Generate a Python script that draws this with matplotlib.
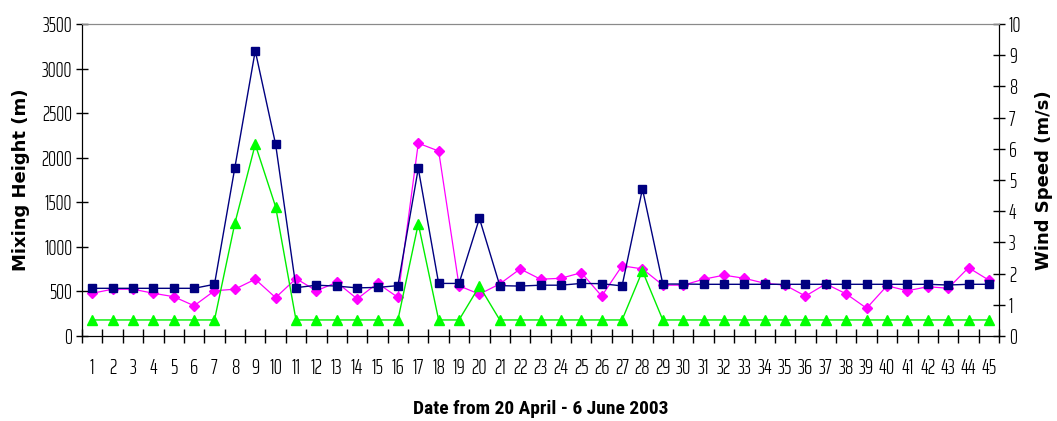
import numpy as np
from matplotlib import pyplot as plt
from matplotlib.ticker import FixedLocator, NullFormatter

# day index, 20 April - 6 June 2003
days = np.arange(1, 46)

# mixing height (m), dark blue squares
mix_height = [535, 535, 535, 535, 535, 535, 580, 1890, 3200, 2150,
              542, 570, 560, 540, 545, 565, 1880, 590, 590, 1320,
              565, 560, 570, 570, 590, 587, 562, 1650, 583, 583,
              580, 580, 580, 580, 580, 580, 580, 580, 580, 580,
              580, 580, 572, 580, 580]

# second mixing height series (m), green triangles
mix_height2 = [180, 180, 180, 180, 180, 180, 180, 1265, 2150, 1450,
               180, 180, 180, 180, 180, 180, 1260, 180, 180, 560,
               180, 180, 180, 180, 180, 180, 180, 730, 180, 180,
               180, 180, 180, 180, 180, 180, 180, 180, 180, 180,
               180, 180, 180, 180, 180]

# wind speed (m/s), magenta diamonds
wind = [1.37, 1.50, 1.50, 1.37, 1.26, 0.97, 1.45, 1.50, 1.82, 1.23,
        1.84, 1.45, 1.72, 1.19, 1.69, 1.24, 6.18, 5.93, 1.61, 1.34,
        1.67, 2.15, 1.82, 1.85, 2.03, 1.28, 2.25, 2.15, 1.63, 1.63,
        1.82, 1.95, 1.85, 1.69, 1.63, 1.28, 1.67, 1.35, 0.89, 1.61,
        1.45, 1.58, 1.53, 2.19, 1.79]

ticks_font = ["Saira ExtraCondensed", "Archivo Narrow", "DejaVu Sans"]
xlabel_font = ["Roboto Condensed", "PT Sans Narrow", "DejaVu Sans"]
ylabel_font = ["DejaVu Sans"]

fig = plt.figure(figsize=(10.57, 4.21), dpi=100)
ax = fig.add_axes([0.0776, 0.2019, 0.8676, 0.741])
ax2 = ax.twinx()

ax2.plot(days, wind, "-D", color="#ff00ff", lw=0.9, ms=5.5, zorder=2)
ax.plot(days, mix_height2, "-^", color="#00ee00", mfc="#00ff00", mec="#00ff00",
        lw=1.0, ms=7, zorder=3)
ax.plot(days, mix_height, "-s", color="#000080", lw=1.0, ms=6, zorder=4)

ax.set_zorder(ax2.get_zorder() + 1)
ax.patch.set_visible(False)

ax.set_xlim(0.5, 45.5)
ax.set_ylim(0, 3500)
ax2.set_ylim(0, 10)
ax.set_yticks(np.arange(0, 3501, 500))
ax2.set_yticks(np.arange(0, 11, 1))

# category ticks sit between the days, labels under each day
ax.xaxis.set_major_locator(FixedLocator(np.arange(0.5, 46, 1)))
ax.xaxis.set_major_formatter(NullFormatter())
ax.xaxis.set_minor_locator(FixedLocator(days))
ax.set_xticklabels([str(d) for d in days], minor=True)
ax.tick_params(axis="x", which="minor", length=0, pad=16)
ax.tick_params(axis="x", which="major", direction="inout", length=10, width=1)
ax.tick_params(axis="y", direction="inout", length=8, width=1, pad=3)
ax2.tick_params(axis="y", direction="inout", length=8, width=1, pad=3)

for lab in ax.get_xticklabels(minor=True):
    lab.set_family(ticks_font)
    lab.set_fontsize(15)
    lab.set_fontweight(300)
for lab in ax.get_yticklabels() + ax2.get_yticklabels():
    lab.set_family(ticks_font)
    lab.set_fontsize(14.5)
    lab.set_fontweight(300)

for a in (ax, ax2):
    a.spines["top"].set_color("#8a8a8a")
    a.spines["left"].set_color("black")
    a.spines["right"].set_color("black")
    a.spines["bottom"].set_color("black")

ax.set_ylabel("Mixing Height (m)", fontsize=13, fontweight="bold",
              family=ylabel_font, labelpad=8)
ax2.set_ylabel("Wind Speed (m/s)", fontsize=13, fontweight="bold",
               family=ylabel_font, labelpad=10)
ax.set_xlabel("Date from 20 April - 6 June 2003", fontsize=14,
              fontweight="bold", family=xlabel_font, labelpad=16)

fig.savefig("out.png", dpi=100)
